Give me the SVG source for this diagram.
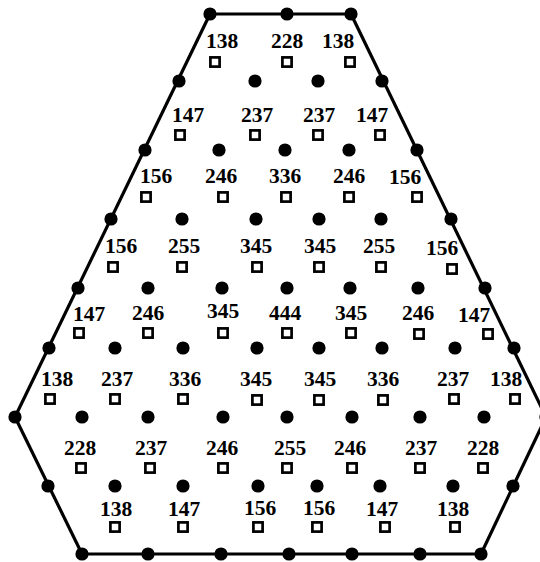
<svg xmlns="http://www.w3.org/2000/svg" width="540" height="562" viewBox="0 0 540 562">
<style>
.dot{fill:#000}
.sq{fill:#fff;stroke:#000;stroke-width:2.7}
.lbl{font-family:"Liberation Serif","Times New Roman",serif;font-size:21.5px;font-weight:bold;text-anchor:middle;fill:#000}
.edge{stroke:#000;stroke-width:3.2;fill:none;stroke-linejoin:round}
</style>
<defs>
<circle id="d" r="6.6"/>
<rect id="s" x="-4.6" y="-4.6" width="9.2" height="9.2"/>
</defs>
<rect width="540" height="562" fill="#fff"/>
<g id="connectors">
<line class="edge" x1="210" y1="14" x2="351" y2="14"/>
<line class="edge" x1="351" y1="14" x2="546" y2="417"/>
<line class="edge" x1="546" y1="417" x2="481" y2="554"/>
<line class="edge" x1="481" y1="554" x2="82" y2="554"/>
<line class="edge" x1="82" y1="554" x2="15" y2="417"/>
<line class="edge" x1="15" y1="417" x2="210" y2="14"/>
</g>
<g id="hull-nodes" class="dot">
<g id="h1"><use href="#d" x="210" y="14"/></g>
<g id="h2"><use href="#d" x="287" y="14"/></g>
<g id="h3"><use href="#d" x="351" y="14"/></g>
<g id="h4"><use href="#d" x="382" y="81"/></g>
<g id="h5"><use href="#d" x="417" y="150"/></g>
<g id="h6"><use href="#d" x="451" y="219"/></g>
<g id="h7"><use href="#d" x="485" y="288"/></g>
<g id="h8"><use href="#d" x="514" y="348"/></g>
<g id="h9"><use href="#d" x="546" y="417"/></g>
<g id="h10"><use href="#d" x="513" y="486"/></g>
<g id="h11"><use href="#d" x="481" y="554"/></g>
<g id="h12"><use href="#d" x="420" y="554"/></g>
<g id="h13"><use href="#d" x="352" y="554"/></g>
<g id="h14"><use href="#d" x="289" y="554"/></g>
<g id="h15"><use href="#d" x="221" y="554"/></g>
<g id="h16"><use href="#d" x="148" y="554"/></g>
<g id="h17"><use href="#d" x="82" y="554"/></g>
<g id="h18"><use href="#d" x="48" y="486"/></g>
<g id="h19"><use href="#d" x="15" y="417"/></g>
<g id="h20"><use href="#d" x="49" y="348"/></g>
<g id="h21"><use href="#d" x="78" y="288"/></g>
<g id="h22"><use href="#d" x="111" y="219"/></g>
<g id="h23"><use href="#d" x="145" y="150"/></g>
<g id="h24"><use href="#d" x="179" y="81"/></g>
</g>
<g id="inner-dots" class="dot">
<g id="d1a"><use href="#d" x="255" y="81"/></g>
<g id="d1b"><use href="#d" x="318" y="81"/></g>
<g id="d2a"><use href="#d" x="219" y="150"/></g>
<g id="d2b"><use href="#d" x="285" y="150"/></g>
<g id="d2c"><use href="#d" x="349" y="150"/></g>
<g id="d3a"><use href="#d" x="182" y="219"/></g>
<g id="d3b"><use href="#d" x="256" y="219"/></g>
<g id="d3c"><use href="#d" x="319" y="219"/></g>
<g id="d3d"><use href="#d" x="381" y="219"/></g>
<g id="d4a"><use href="#d" x="148" y="288"/></g>
<g id="d4b"><use href="#d" x="222" y="288"/></g>
<g id="d4c"><use href="#d" x="287" y="288"/></g>
<g id="d4d"><use href="#d" x="350" y="288"/></g>
<g id="d4e"><use href="#d" x="418" y="288"/></g>
<g id="d5a"><use href="#d" x="115" y="348"/></g>
<g id="d5b"><use href="#d" x="183" y="348"/></g>
<g id="d5c"><use href="#d" x="257" y="348"/></g>
<g id="d5d"><use href="#d" x="319" y="348"/></g>
<g id="d5e"><use href="#d" x="382" y="348"/></g>
<g id="d5f"><use href="#d" x="455" y="348"/></g>
<g id="d6a"><use href="#d" x="82" y="417"/></g>
<g id="d6b"><use href="#d" x="148" y="417"/></g>
<g id="d6c"><use href="#d" x="223" y="417"/></g>
<g id="d6d"><use href="#d" x="287" y="417"/></g>
<g id="d6e"><use href="#d" x="352" y="417"/></g>
<g id="d6f"><use href="#d" x="420" y="417"/></g>
<g id="d6g"><use href="#d" x="484" y="417"/></g>
<g id="d7a"><use href="#d" x="115" y="486"/></g>
<g id="d7b"><use href="#d" x="183" y="486"/></g>
<g id="d7c"><use href="#d" x="258" y="486"/></g>
<g id="d7d"><use href="#d" x="317" y="486"/></g>
<g id="d7e"><use href="#d" x="380" y="486"/></g>
<g id="d7f"><use href="#d" x="453" y="486"/></g>
</g>
<g id="squares">
<g id="s1a"><use class="sq" href="#s" x="215" y="62"/><text class="lbl" x="222" y="48">138</text></g>
<g id="s1b"><use class="sq" href="#s" x="287" y="62"/><text class="lbl" x="287" y="48">228</text></g>
<g id="s1c"><use class="sq" href="#s" x="350" y="62"/><text class="lbl" x="338" y="48">138</text></g>
<g id="s2a"><use class="sq" href="#s" x="180" y="135"/><text class="lbl" x="188" y="122">147</text></g>
<g id="s2b"><use class="sq" href="#s" x="255" y="135"/><text class="lbl" x="257" y="122">237</text></g>
<g id="s2c"><use class="sq" href="#s" x="318" y="135"/><text class="lbl" x="319" y="122">237</text></g>
<g id="s2d"><use class="sq" href="#s" x="380" y="135"/><text class="lbl" x="372" y="122">147</text></g>
<g id="s3a"><use class="sq" href="#s" x="146" y="197"/><text class="lbl" x="156" y="183">156</text></g>
<g id="s3b"><use class="sq" href="#s" x="223" y="197"/><text class="lbl" x="221" y="183">246</text></g>
<g id="s3c"><use class="sq" href="#s" x="286" y="197"/><text class="lbl" x="285" y="183">336</text></g>
<g id="s3d"><use class="sq" href="#s" x="349" y="197"/><text class="lbl" x="349" y="183">246</text></g>
<g id="s3e"><use class="sq" href="#s" x="417" y="197"/><text class="lbl" x="405" y="184">156</text></g>
<g id="s4a"><use class="sq" href="#s" x="113" y="267"/><text class="lbl" x="121" y="253">156</text></g>
<g id="s4b"><use class="sq" href="#s" x="182" y="267"/><text class="lbl" x="184" y="253">255</text></g>
<g id="s4c"><use class="sq" href="#s" x="257" y="267"/><text class="lbl" x="256" y="253">345</text></g>
<g id="s4d"><use class="sq" href="#s" x="319" y="267"/><text class="lbl" x="320" y="253">345</text></g>
<g id="s4e"><use class="sq" href="#s" x="381" y="267"/><text class="lbl" x="379" y="253">255</text></g>
<g id="s4f"><use class="sq" href="#s" x="452" y="269"/><text class="lbl" x="442" y="255">156</text></g>
<g id="s5a"><use class="sq" href="#s" x="79" y="333"/><text class="lbl" x="89" y="321">147</text></g>
<g id="s5b"><use class="sq" href="#s" x="148" y="333"/><text class="lbl" x="148" y="320">246</text></g>
<g id="s5c"><use class="sq" href="#s" x="223" y="333"/><text class="lbl" x="223" y="318">345</text></g>
<g id="s5d"><use class="sq" href="#s" x="287" y="333"/><text class="lbl" x="285" y="320">444</text></g>
<g id="s5e"><use class="sq" href="#s" x="351" y="333"/><text class="lbl" x="351" y="320">345</text></g>
<g id="s5f"><use class="sq" href="#s" x="419" y="334"/><text class="lbl" x="418" y="320">246</text></g>
<g id="s5g"><use class="sq" href="#s" x="488" y="334"/><text class="lbl" x="474" y="322">147</text></g>
<g id="s6a"><use class="sq" href="#s" x="50" y="399"/><text class="lbl" x="57" y="386">138</text></g>
<g id="s6b"><use class="sq" href="#s" x="115" y="399"/><text class="lbl" x="117" y="386">237</text></g>
<g id="s6c"><use class="sq" href="#s" x="183" y="399"/><text class="lbl" x="185" y="386">336</text></g>
<g id="s6d"><use class="sq" href="#s" x="257" y="400"/><text class="lbl" x="256" y="386">345</text></g>
<g id="s6e"><use class="sq" href="#s" x="319" y="400"/><text class="lbl" x="320" y="386">345</text></g>
<g id="s6f"><use class="sq" href="#s" x="383" y="400"/><text class="lbl" x="383" y="386">336</text></g>
<g id="s6g"><use class="sq" href="#s" x="454" y="399"/><text class="lbl" x="453" y="386">237</text></g>
<g id="s6h"><use class="sq" href="#s" x="515" y="399"/><text class="lbl" x="506" y="386">138</text></g>
<g id="s7a"><use class="sq" href="#s" x="81" y="468"/><text class="lbl" x="80" y="455">228</text></g>
<g id="s7b"><use class="sq" href="#s" x="150" y="468"/><text class="lbl" x="151" y="455">237</text></g>
<g id="s7c"><use class="sq" href="#s" x="223" y="468"/><text class="lbl" x="222" y="455">246</text></g>
<g id="s7d"><use class="sq" href="#s" x="287" y="468"/><text class="lbl" x="290" y="455">255</text></g>
<g id="s7e"><use class="sq" href="#s" x="352" y="468"/><text class="lbl" x="350" y="455">246</text></g>
<g id="s7f"><use class="sq" href="#s" x="420" y="468"/><text class="lbl" x="421" y="455">237</text></g>
<g id="s7g"><use class="sq" href="#s" x="483" y="468"/><text class="lbl" x="483" y="455">228</text></g>
<g id="s8a"><use class="sq" href="#s" x="115" y="527"/><text class="lbl" x="116" y="516">138</text></g>
<g id="s8b"><use class="sq" href="#s" x="183" y="527"/><text class="lbl" x="184" y="516">147</text></g>
<g id="s8c"><use class="sq" href="#s" x="258" y="527"/><text class="lbl" x="260" y="515">156</text></g>
<g id="s8d"><use class="sq" href="#s" x="317" y="527"/><text class="lbl" x="319" y="515">156</text></g>
<g id="s8e"><use class="sq" href="#s" x="385" y="527"/><text class="lbl" x="382" y="516">147</text></g>
<g id="s8f"><use class="sq" href="#s" x="455" y="527"/><text class="lbl" x="453" y="516">138</text></g>
</g>
</svg>
